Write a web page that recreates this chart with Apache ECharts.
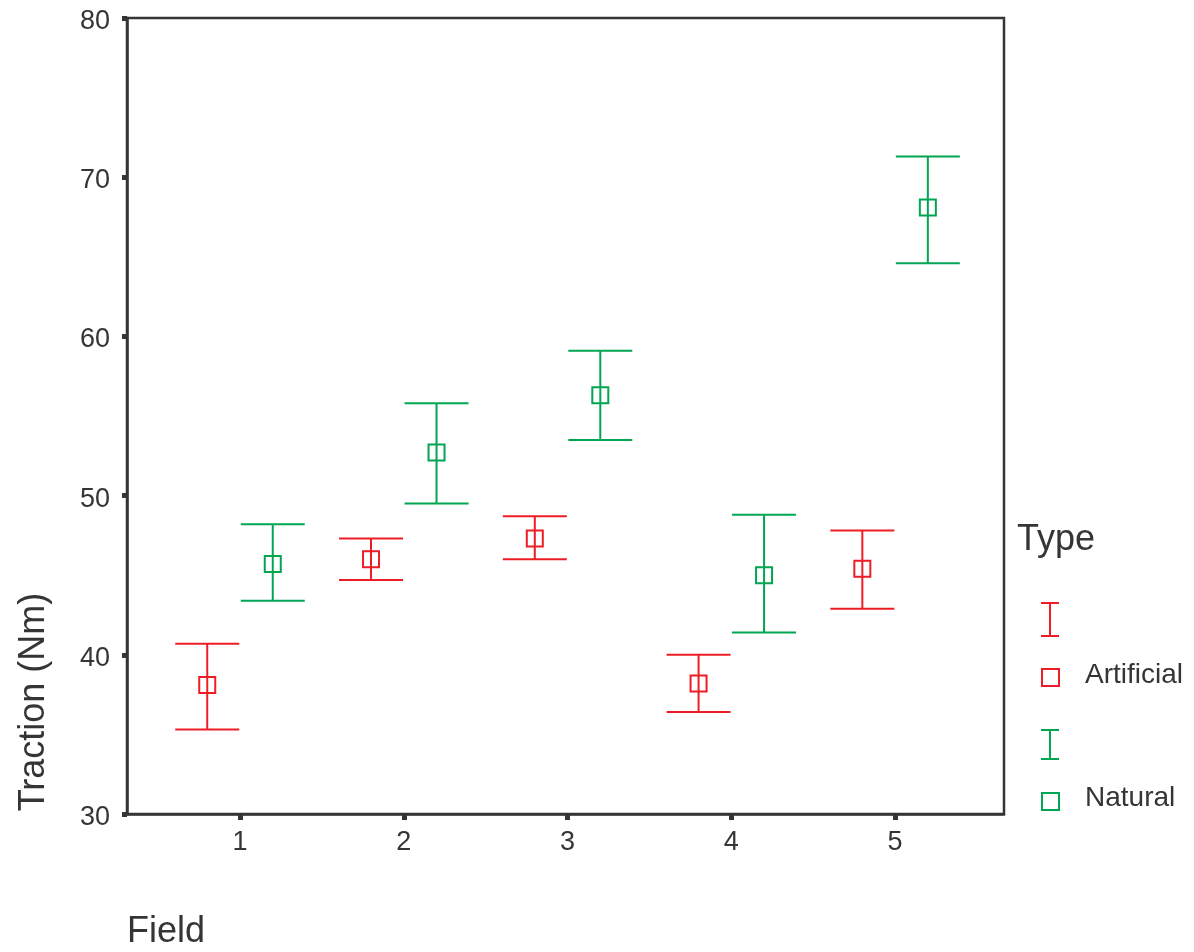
<!DOCTYPE html>
<html>
<head>
<meta charset="utf-8">
<script src="https://cdn.jsdelivr.net/npm/echarts@6/dist/echarts.min.js"></script>
<style>html,body{margin:0;padding:0;background:#fff;}#chart{width:1194px;height:952px;}</style>
</head>
<body>
<div id="chart"></div>
<script>
const fields = [1, 2, 3, 4, 5];
const yTicks = [30, 40, 50, 60, 70, 80];
const artificialMean = [38.1, 46.0, 47.3, 38.2, 45.4];
const artificialLow  = [35.3, 44.7, 46.0, 36.4, 42.9];
const artificialHigh = [40.7, 47.3, 48.7, 40.0, 47.8];
const naturalMean = [45.7, 52.7, 56.3, 45.0, 68.1];
const naturalLow  = [43.4, 49.5, 53.5, 41.4, 64.6];
const naturalHigh = [48.2, 55.8, 59.1, 48.8, 71.3];

const RED = '#ee1c25', GREEN = '#00a651', INK = '#353538';
const FONT = '"Liberation Sans", Arial, Helvetica, sans-serif';
const OFFSET = 0.2;

function errData(lows, highs, off) {
  return fields.map((f, i) => [f + off, lows[i], highs[i]]);
}
function ptData(means, off) {
  return fields.map((f, i) => [f + off, means[i]]);
}
function errSeries(data, color) {
  return {
    type: 'custom',
    data: data,
    encode: { x: 0, y: [1, 2] },
    renderItem: function (params, api) {
      const x = api.value(0);
      const lo = api.coord([x, api.value(1)]);
      const hi = api.coord([x, api.value(2)]);
      const half = 32;
      const st = { stroke: color, lineWidth: 2 };
      return { type: 'group', children: [
        { type: 'line', shape: { x1: lo[0], y1: lo[1], x2: hi[0], y2: hi[1] }, style: st },
        { type: 'line', shape: { x1: hi[0] - half, y1: hi[1], x2: hi[0] + half, y2: hi[1] }, style: st },
        { type: 'line', shape: { x1: lo[0] - half, y1: lo[1], x2: lo[0] + half, y2: lo[1] }, style: st }
      ]};
    },
    z: 2
  };
}
function ptSeries(data, color) {
  return {
    type: 'scatter', data: data, symbol: 'rect', symbolSize: 16,
    itemStyle: { color: 'rgba(255,255,255,0)', borderColor: color, borderWidth: 2, opacity: 1 },
    z: 3
  };
}

const chart = echarts.init(document.getElementById('chart'), null, { renderer: 'canvas' });
const legX = 1050;
chart.setOption({
  animation: false,
  grid: { left: 127, top: 18, right: 190, bottom: 138, show: true, borderColor: INK, borderWidth: 2.5, backgroundColor: 'transparent' },
  xAxis: {
    type: 'value', min: 0.31, max: 5.665,
    splitLine: { show: false },
    axisLine: { lineStyle: { color: INK, width: 2.5 } },
    axisTick: { customValues: fields, length: 6, lineStyle: { color: INK, width: 5 } },
    axisLabel: { customValues: fields, color: INK, fontSize: 27, fontFamily: FONT, margin: 15 }
  },
  yAxis: {
    type: 'value', min: yTicks[0], max: yTicks[yTicks.length - 1], interval: 10,
    splitLine: { show: false },
    axisLine: { lineStyle: { color: INK, width: 2.5 } },
    axisTick: { length: 5, lineStyle: { color: INK, width: 5 } },
    axisLabel: { color: INK, fontSize: 27, fontFamily: FONT, margin: 17, verticalAlign: 'top', padding: [-10, 0, 0, 0] }
  },
  series: [
    errSeries(errData(artificialLow, artificialHigh, -OFFSET), RED),
    ptSeries(ptData(artificialMean, -OFFSET), RED),
    errSeries(errData(naturalLow, naturalHigh, OFFSET), GREEN),
    ptSeries(ptData(naturalMean, OFFSET), GREEN)
  ],
  graphic: [
    { type: 'text', x: 34, y: 702, rotation: Math.PI / 2, style: { text: 'Traction (Nm)', fill: INK, fontSize: 36, fontFamily: FONT, align: 'center', verticalAlign: 'middle' } },
    { type: 'text', x: 127, y: 932, style: { text: 'Field', fill: INK, fontSize: 36, fontFamily: FONT, align: 'left', verticalAlign: 'middle' } },
    { type: 'text', x: 1017, y: 540, style: { text: 'Type', fill: INK, fontSize: 36, fontFamily: FONT, align: 'left', verticalAlign: 'middle' } },
    { type: 'line', shape: { x1: legX, y1: 603, x2: legX, y2: 636 }, style: { stroke: RED, lineWidth: 2 } },
    { type: 'line', shape: { x1: legX - 9, y1: 603, x2: legX + 9, y2: 603 }, style: { stroke: RED, lineWidth: 2 } },
    { type: 'line', shape: { x1: legX - 9, y1: 636, x2: legX + 9, y2: 636 }, style: { stroke: RED, lineWidth: 2 } },
    { type: 'rect', shape: { x: legX - 8, y: 669, width: 17, height: 17 }, style: { stroke: RED, fill: 'none', lineWidth: 2 } },
    { type: 'text', x: 1085, y: 675, style: { text: 'Artificial', fill: INK, fontSize: 28, fontFamily: FONT, align: 'left', verticalAlign: 'middle' } },
    { type: 'line', shape: { x1: legX, y1: 730, x2: legX, y2: 759 }, style: { stroke: GREEN, lineWidth: 2 } },
    { type: 'line', shape: { x1: legX - 9, y1: 730, x2: legX + 9, y2: 730 }, style: { stroke: GREEN, lineWidth: 2 } },
    { type: 'line', shape: { x1: legX - 9, y1: 759, x2: legX + 9, y2: 759 }, style: { stroke: GREEN, lineWidth: 2 } },
    { type: 'rect', shape: { x: legX - 8, y: 793, width: 17, height: 17 }, style: { stroke: GREEN, fill: 'none', lineWidth: 2 } },
    { type: 'text', x: 1085, y: 798, style: { text: 'Natural', fill: INK, fontSize: 28, fontFamily: FONT, align: 'left', verticalAlign: 'middle' } }
  ]
});
</script>
</body>
</html>
